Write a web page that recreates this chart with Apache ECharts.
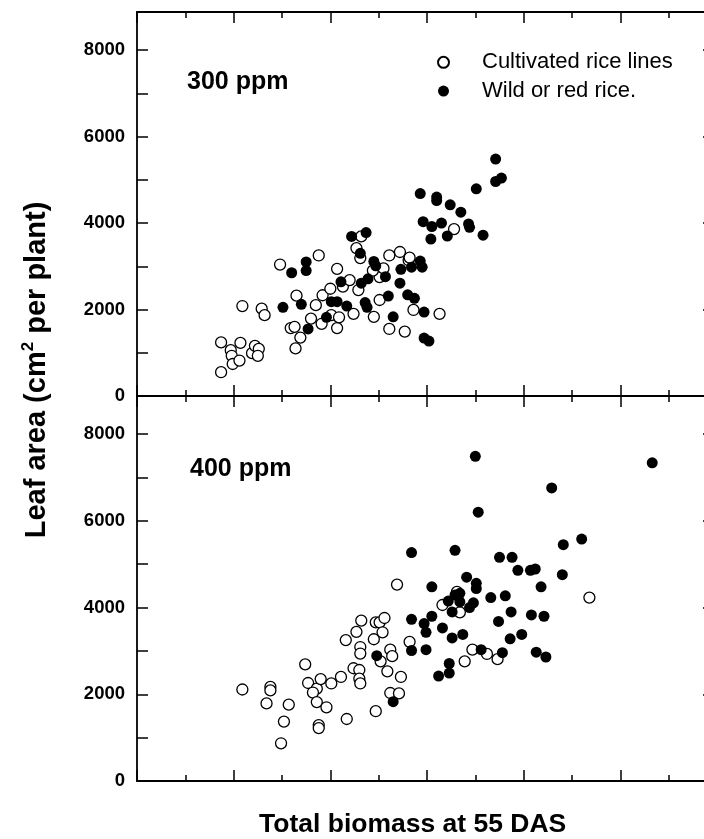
<!DOCTYPE html>
<html>
<head>
<meta charset="utf-8">
<script src="https://cdn.jsdelivr.net/npm/echarts@6/dist/echarts.min.js"></script>
<style>
  html, body { margin: 0; padding: 0; background: #fff; }
  #main { width: 704px; height: 839px; }
</style>
</head>
<body>
<div id="main"></div>
<script>
// x values are in arbitrary biomass units (axis has no labels), y = leaf area
var cultivated300 = [
  [8.7,550],[8.7,1240],[9.7,1060],[9.8,930],[9.9,740],[10.6,820],[10.7,1230],[10.9,2080],
  [11.9,990],[12.2,1160],[12.6,1090],[12.5,930],[12.9,2020],[13.2,1870],[14.8,3040],[15.9,1570],
  [16.3,1600],[16.4,1100],[16.5,2320],[16.9,1350],[18.0,1790],[18.5,2100],[18.8,3250],[19.1,1670],
  [19.2,2330],[20.0,2480],[20.1,1870],[20.7,2940],[20.7,1570],[20.9,1820],[21.3,2530],[22.0,2680],
  [22.4,1900],[22.7,3420],[23.1,3190],[23.2,3690],[22.9,2450],[24.5,1830],[25.1,2750],[25.1,2220],
  [25.5,2950],[26.1,3250],[26.1,1550],[27.2,3330],[27.7,1490],[28.1,3140],[28.2,3200],[28.6,1990],
  [24.4,2900],[32.8,3860],[31.3,1900]
];
var wild300 = [
  [15.1,2050],[16.0,2850],[17.0,2120],[17.5,3100],[17.5,2900],[17.7,1550],[19.6,1820],[20.1,2180],
  [20.7,2180],[21.1,2640],[21.7,2080],[22.2,3690],[23.1,3300],[23.7,3780],[23.2,2610],[23.6,2160],
  [23.8,2050],[23.9,2710],[24.5,3110],[24.7,3010],[25.7,2760],[26.0,2310],[26.5,1830],[27.2,2610],
  [27.3,2930],[28.0,2340],[28.4,2980],[28.7,2260],[29.3,3120],[29.5,2980],[29.3,4680],[31.0,4600],
  [31.0,4520],[32.4,4420],[33.5,4250],[35.1,4790],[37.1,5480],[37.1,4960],[37.7,5040],[29.6,4030],
  [30.5,3920],[31.5,4000],[30.4,3630],[32.1,3700],[34.3,3980],[34.4,3900],[35.8,3720],[29.7,1940],
  [29.7,1340],[30.2,1270]
];
var cultivated400 = [
  [10.9,2110],[13.8,2170],[13.8,2090],[13.4,1790],[15.7,1760],[15.2,1370],[14.9,870],[17.4,2690],
  [17.7,2260],[18.6,2130],[18.2,2040],[19.0,2350],[18.6,1820],[19.6,1700],[18.8,1290],[18.8,1220],
  [20.1,2250],[21.1,2400],[21.7,1430],[21.6,3250],[22.4,2600],[22.7,3440],[23.2,3700],[23.1,3090],
  [23.1,2940],[23.0,2560],[23.0,2360],[23.1,2250],[24.5,3270],[24.7,3660],[25.1,3660],[25.6,3760],
  [25.4,3430],[25.2,2760],[25.9,2530],[26.2,3030],[26.4,2880],[26.2,2030],[27.1,2020],[24.7,1610],
  [27.3,2400],[28.2,3210],[26.9,4530],[46.8,4230],[33.1,4360],[31.6,4060],[33.4,3890],[34.7,3030],
  [36.2,2930],[37.3,2810],[33.9,2760]
];
var wild400 = [
  [35.0,7490],[53.3,7340],[42.9,6760],[35.3,6200],[46.0,5580],[44.1,5450],[28.4,5270],[32.9,5320],
  [37.5,5160],[38.8,5160],[39.4,4860],[40.7,4860],[41.2,4890],[44.0,4760],[34.1,4700],[35.1,4560],
  [35.1,4440],[30.5,4480],[41.8,4480],[33.4,4330],[32.9,4290],[32.2,4150],[33.4,4130],[32.6,3900],
  [34.4,4000],[34.8,4110],[36.6,4230],[38.1,4270],[28.4,3730],[30.5,3800],[29.7,3630],[29.9,3430],
  [31.6,3530],[32.6,3300],[33.7,3380],[38.7,3900],[37.4,3680],[40.8,3830],[42.1,3800],[39.8,3380],
  [38.6,3280],[28.4,3010],[29.9,3030],[35.6,3030],[37.8,2960],[41.3,2970],[42.3,2860],[32.3,2710],
  [32.3,2490],[31.2,2420],[24.8,2890],[26.5,1830]
];
var panelNames = ['300 ppm', '400 ppm'];
var legendNames = ['Cultivated rice lines', 'Wild or red rice.'];

var font = "'Liberation Sans', Arial, sans-serif";
var lineStyle = { color: '#000', width: 1.8 };

function xAxisFor(grid, pos) {
  return {
    type: 'value', gridIndex: grid, position: pos,
    min: 0, max: 60, interval: 10,
    axisLine: { show: true, onZero: false, lineStyle: lineStyle },
    axisTick: { show: true, inside: true, length: 11, lineStyle: { color: '#000', width: 1.5 } },
    minorTick: { show: true, splitNumber: 2, length: 6, lineStyle: { color: '#000', width: 1.5 } },
    axisLabel: { show: false },
    splitLine: { show: false }
  };
}
function yAxisFor(grid, pos) {
  var left = pos === 'left';
  return {
    type: 'value', gridIndex: grid, position: pos,
    min: 0, max: 8880, interval: left ? 1000 : 2000,
    axisLine: { show: true, onZero: false, lineStyle: lineStyle },
    axisTick: { show: true, inside: true, length: left ? 11 : 14, lineStyle: { color: '#000', width: 1.5 } },
    axisLabel: {
      show: left, showMaxLabel: false, margin: 12,
      fontSize: 18.5, fontWeight: 'bold', fontFamily: font, color: '#000',
      // only every other tick is labelled
      formatter: function (v) { return v % 2000 === 0 ? String(v) : ''; }
    },
    splitLine: { show: false }
  };
}

var openStyle = { color: '#fff', borderColor: '#000', borderWidth: 1.3, opacity: 1 };
var fillStyle = { color: '#000', opacity: 1 };

var myChart = echarts.init(document.getElementById('main'), null, { renderer: 'canvas' });
myChart.setOption({
  animation: false,
  backgroundColor: '#fff',
  // plot box runs a little past the right edge of the page, as in the original
  grid: [
    { left: 137, width: 580, top: 12, height: 384, outerBoundsMode: 'none', containLabel: false },
    { left: 137, width: 580, top: 396, height: 385, outerBoundsMode: 'none', containLabel: false }
  ],
  xAxis: [xAxisFor(0, 'bottom'), xAxisFor(0, 'top'), xAxisFor(1, 'bottom'), xAxisFor(1, 'top')],
  yAxis: [yAxisFor(0, 'left'), yAxisFor(0, 'right'), yAxisFor(1, 'left'), yAxisFor(1, 'right')],
  legend: {
    orient: 'vertical', left: 437, top: 48, padding: 0, itemGap: 0,
    itemWidth: 11, itemHeight: 11, selectedMode: false,
    data: legendNames,
    textStyle: { fontSize: 22, fontFamily: font, color: '#000', lineHeight: 28.7, padding: [0, 0, 0, 28] }
  },
  graphic: [
    { type: 'text', left: 187, top: 70, style: { text: panelNames[0], font: 'bold 25px ' + font, fill: '#000' } },
    { type: 'text', left: 190, top: 457, style: { text: panelNames[1], font: 'bold 25px ' + font, fill: '#000' } },
    {
      type: 'text', x: 37, y: 370, rotation: Math.PI / 2,
      style: {
        text: '{a|Leaf area (cm}{s|2}{a| per plant)}',
        align: 'center', verticalAlign: 'middle', fill: '#000',
        rich: {
          a: { fontSize: 29, fontWeight: 'bold', fontFamily: font, lineHeight: 34 },
          s: { fontSize: 17, fontWeight: 'bold', fontFamily: font, verticalAlign: 'top' }
        }
      }
    },
    { type: 'text', left: 259, top: 811, style: { text: 'Total biomass at 55 DAS', font: 'bold 26.5px ' + font, fill: '#000' } }
  ],
  series: [
    { type: 'scatter', name: legendNames[0], xAxisIndex: 0, yAxisIndex: 0, symbolSize: 11, itemStyle: openStyle, data: cultivated300 },
    { type: 'scatter', name: legendNames[1], xAxisIndex: 0, yAxisIndex: 0, symbolSize: 11, itemStyle: fillStyle, data: wild300 },
    { type: 'scatter', name: legendNames[0], xAxisIndex: 2, yAxisIndex: 2, symbolSize: 11, itemStyle: openStyle, data: cultivated400 },
    { type: 'scatter', name: legendNames[1], xAxisIndex: 2, yAxisIndex: 2, symbolSize: 11, itemStyle: fillStyle, data: wild400 }
  ]
});
</script>
</body>
</html>
